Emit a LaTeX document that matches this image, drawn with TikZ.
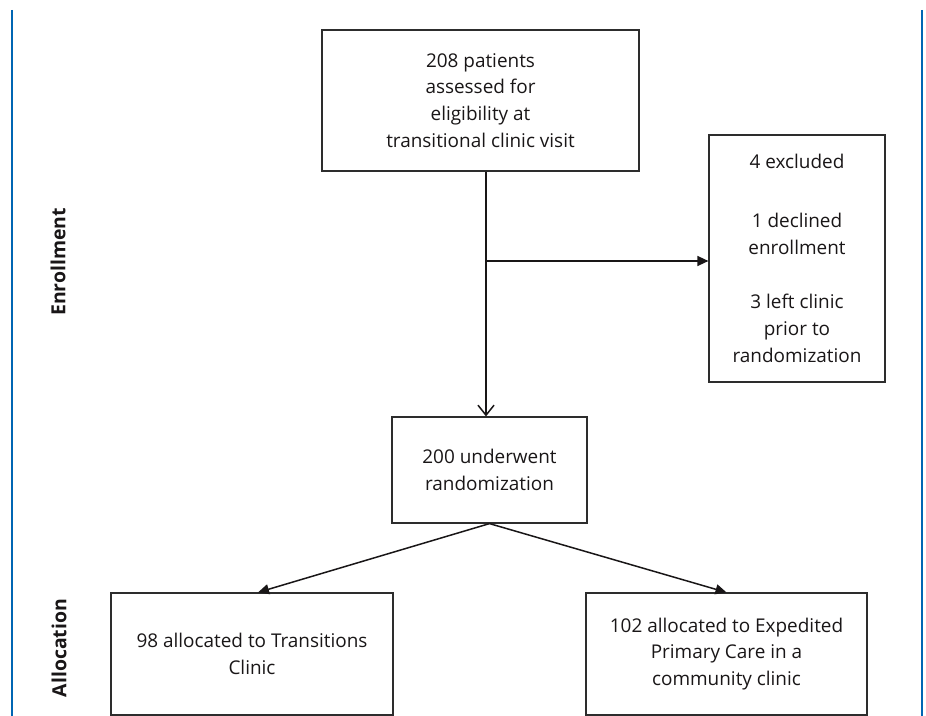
\documentclass[tikz,border=0pt]{standalone}
\usepackage{fontspec}
\setmainfont{Open Sans}
\usetikzlibrary{arrows.meta,calc}
\definecolor{frameblue}{RGB}{0,102,179}
\definecolor{boxline}{RGB}{45,45,45}
\definecolor{txt}{RGB}{25,22,23}
\begin{document}
\begin{tikzpicture}[x=1bp,y=-1bp,
  box/.style={draw=boxline,line width=1.2bp,inner sep=0pt,align=center,text=txt,
    font=\fontsize{19}{27}\selectfont},
  conn/.style={draw=txt,line width=1.5bp},
  tri/.style={-{Triangle[length=11bp,width=10bp]}},
  barb/.style={-{Straight Barb[length=10bp,width=16bp,line width=1.5bp]}},
  phase/.style={rotate=90,text=txt,font=\fontsize{19.5}{22}\selectfont\bfseries}]
\useasboundingbox (0,0) rectangle (926,716);
\clip (0,0) rectangle (926,716);
% frame lines
\draw[frameblue,line width=2.8bp] (12,10) -- (12,720);
\draw[frameblue,line width=2.8bp] (922,10) -- (922,720);
% phase labels
\node[phase] (enr) at (58,262) {Enrollment};
\node[phase] (alloc) at (59,648) {Allocation};
% boxes
\node[box,minimum width=317bp,minimum height=141bp] (top) at (480.5,100.5)
  {208 patients\\assessed for\\eligibility at\\transitional clinic visit};
\node[box,minimum width=176bp,minimum height=247bp] (excl) at (797,258.5)
  {4 excluded\\[32bp]1 declined\\enrollment\\[27bp]3 left clinic\\prior to\\randomization};
\node[box,minimum width=195bp,minimum height=106bp] (rand) at (489.5,470)
  {200 underwent\\randomization};
\node[box,minimum width=282bp,minimum height=122bp] (left) at (252,654)
  {98 allocated to Transitions\\Clinic};
\node[box,minimum width=281bp,minimum height=122bp] (right) at (726.5,654)
  {102 allocated to Expedited\\Primary Care in a\\community clinic};
% connectors
\coordinate (v) at (486,0);
\coordinate (h) at (0,261);
\draw[conn,barb] (top.south -| v) -- (rand.north -| v);
\draw[conn,tri] (v |- h) -- (excl.west |- h);
\draw[conn,tri] (rand.south) -- ($(left.north)+(6,0)$);
\draw[conn,tri] (rand.south) -- (right.north);
\end{tikzpicture}
\end{document}
